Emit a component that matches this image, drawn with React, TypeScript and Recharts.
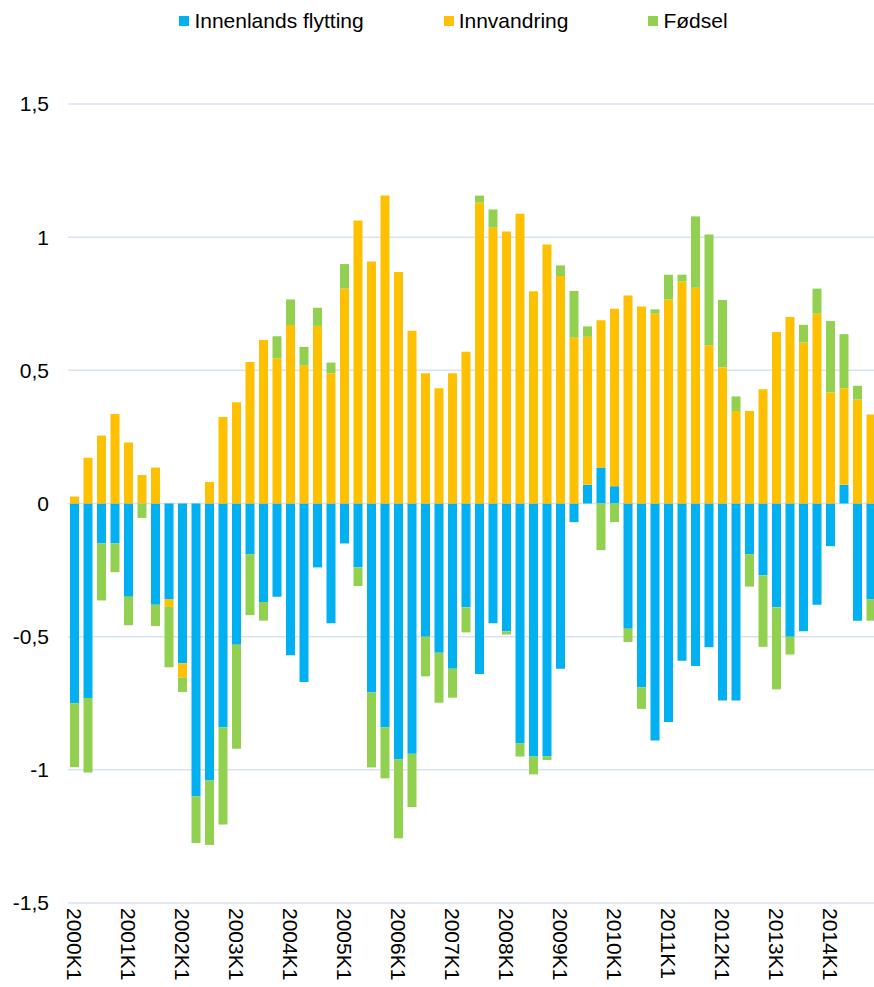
import React from 'react';
import { BarChart, Bar, XAxis, YAxis, CartesianGrid, Legend } from 'recharts';

const years = ['2000', '2001', '2002', '2003', '2004', '2005', '2006', '2007', '2008', '2009', '2010', '2011', '2012', '2013', '2014'];
const quarters = ['K1', 'K2', 'K3', 'K4'];
const categories: string[] = years.flatMap((y) => quarters.map((q) => y + q));

const innenlands = [
  -0.75, -0.73, -0.15, -0.15, -0.35, 0, -0.38, -0.36, -0.6, -1.1,
  -1.04, -0.84, -0.53, -0.19, -0.37, -0.35, -0.57, -0.67, -0.24, -0.45,
  -0.15, -0.24, -0.71, -0.84, -0.96, -0.94, -0.5, -0.56, -0.62, -0.39,
  -0.64, -0.45, -0.48, -0.9, -0.95, -0.95, -0.62, -0.07, 0.07, 0.135,
  0.065, -0.47, -0.69, -0.89, -0.82, -0.59, -0.61, -0.54, -0.74, -0.74,
  -0.19, -0.27, -0.39, -0.5, -0.48, -0.38, -0.16, 0.07, -0.44, -0.36,
];

const innvandring = [
  0.026, 0.172, 0.255, 0.336, 0.229, 0.107, 0.135, -0.028, -0.054, 0,
  0.081, 0.325, 0.38, 0.531, 0.614, 0.545, 0.67, 0.518, 0.667, 0.489,
  0.807, 1.063, 0.909, 1.156, 0.869, 0.649, 0.489, 0.433, 0.489, 0.57,
  1.13, 1.036, 1.021, 1.088, 0.797, 0.972, 0.854, 0.623, 0.556, 0.553,
  0.666, 0.781, 0.74, 0.713, 0.766, 0.833, 0.81, 0.594, 0.511, 0.347,
  0.347, 0.429, 0.644, 0.7, 0.604, 0.713, 0.417, 0.363, 0.39, 0.334,
];

const fodsel = [
  -0.24, -0.28, -0.214, -0.108, -0.107, -0.054, -0.08, -0.227, -0.054, -0.175,
  -0.242, -0.365, -0.391, -0.229, -0.07, 0.083, 0.096, 0.07, 0.068, 0.04,
  0.092, -0.07, -0.281, -0.192, -0.297, -0.2, -0.149, -0.188, -0.109, -0.094,
  0.026, 0.068, -0.012, -0.05, -0.067, -0.013, 0.04, 0.175, 0.039, -0.175,
  -0.07, -0.05, -0.081, 0.016, 0.093, 0.026, 0.268, 0.416, 0.253, 0.055,
  -0.122, -0.268, -0.308, -0.067, 0.067, 0.094, 0.268, 0.203, 0.052, -0.08,
];

const yTicks = [-1.5, -1, -0.5, 0, 0.5, 1, 1.5];

const seriesNames = ['Innenlands flytting', 'Innvandring', 'Fødsel'];
const seriesKeys = ['innenlands', 'innvandring', 'fodsel'];
const seriesColors = ['#00B0F0', '#FFC000', '#92D050'];

const data = categories.map((c, i) => ({
  name: c,
  innenlands: innenlands[i],
  innvandring: innvandring[i],
  fodsel: fodsel[i],
}));

const FONT = '"Liberation Sans", Arial, Helvetica, sans-serif';

const XTick = (props: any) => {
  const { x, y, payload } = props;
  return (
    <text
      x={x}
      y={y}
      transform={`rotate(90, ${x}, ${y})`}
      textAnchor="start"
      dominantBaseline="central"
      fontSize={21}
      fontFamily={FONT}
      fill="#000"
    >
      {payload.value}
    </text>
  );
};

const LegendContent = () => (
  <div
    style={{
      display: 'flex',
      justifyContent: 'center',
      alignItems: 'center',
      gap: 80,
      paddingLeft: 25,
      height: 30,
      fontFamily: FONT,
      fontSize: 21,
      color: '#000',
      boxSizing: 'border-box',
    }}
  >
    {seriesNames.map((n, i) => (
      <div key={n} style={{ display: 'flex', alignItems: 'center' }}>
        <span
          style={{
            display: 'inline-block',
            width: 10,
            height: 10,
            background: seriesColors[i],
            marginRight: 5,
          }}
        />
        <span>{n}</span>
      </div>
    ))}
  </div>
);

export default function App() {
  return (
    <div
      style={{
        position: 'absolute',
        left: 0,
        top: 0,
        width: 874,
        height: 987,
        overflow: 'hidden',
        background: '#fff',
      }}
    >
      <BarChart
        width={882}
        height={987}
        data={data}
        stackOffset="sign"
        barSize={9}
        margin={{ top: 74, right: 4, left: 0, bottom: 0 }}
      >
        <CartesianGrid vertical={false} stroke="#d9e2f0" strokeWidth={1.5} />
        <XAxis
          dataKey="name"
          interval={3}
          axisLine={false}
          tickLine={false}
          tickSize={0}
          tickMargin={5}
          height={84}
          tick={<XTick />}
        />
        <YAxis
          domain={[-1.5, 1.5]}
          ticks={yTicks}
          width={68}
          axisLine={false}
          tickLine={false}
          tickSize={0}
          tickMargin={19}
          tickFormatter={(v: number) => String(v).replace('.', ',')}
          tick={{ fontSize: 21, fill: '#000', fontFamily: FONT }}
        />
        <Legend
          verticalAlign="top"
          align="center"
          content={<LegendContent />}
          wrapperStyle={{ top: 6, left: 0, width: 882 }}
        />
        {seriesKeys.map((k, i) => (
          <Bar
            key={k}
            dataKey={k}
            name={seriesNames[i]}
            stackId="a"
            fill={seriesColors[i]}
            isAnimationActive={false}
          />
        ))}
      </BarChart>
    </div>
  );
}
